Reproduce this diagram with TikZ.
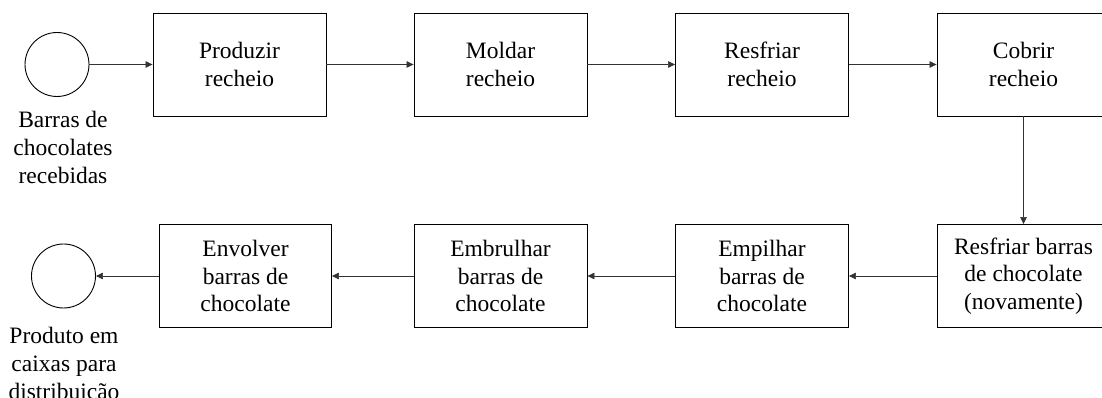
\documentclass[tikz,border=0pt]{standalone}
\usepackage{fontspec}
\setmainfont{Liberation Serif}
\usetikzlibrary{arrows.meta}
\tikzset{
  procbox/.style={draw=black, line width=0.9pt, minimum width=173pt, minimum height=103pt, inner sep=0pt, align=center, font=\fontsize{23.5}{27.5}\selectfont},
  endcirc/.style={draw=black, line width=0.9pt, circle, minimum size=64pt, inner sep=0pt},
  lbl/.style={align=center, inner sep=0pt, anchor=north, font=\fontsize{23.5}{28}\selectfont},
  flow/.style={draw=black!80, line width=0.6pt, -{Triangle[length=7pt,width=6.5pt]}}
}
\begin{document}
\begin{tikzpicture}[x=1pt,y=1pt]
\useasboundingbox (0,0) rectangle (1102,398);
\clip (0,0) rectangle (1102,398);
\node[endcirc] (c1) at (57,333.5) {};
\node[lbl] (l1) at (63,287) {Barras de\\chocolates\\recebidas};
\node[procbox] (b1) at (239.5,333.5) {Produzir\\recheio};
\node[procbox] (b2) at (500.5,333.5) {Moldar\\recheio};
\node[procbox] (b3) at (762,333.5) {Resfriar\\recheio};
\node[procbox] (b4) at (1023.5,333.5) {Cobrir\\recheio};
\node[procbox] (b5) at (1023.5,122) {Resfriar barras\\de chocolate\\(novamente)};
\node[procbox] (b6) at (762,122) {Empilhar\\barras de\\chocolate};
\node[procbox] (b7) at (500.5,122) {Embrulhar\\barras de\\chocolate};
\node[procbox, minimum width=172pt] (b8) at (245.5,122) {Envolver\\barras de\\chocolate};
\node[endcirc] (c2) at (63.5,122) {};
\node[lbl] (l2) at (64,71) {Produto em\\caixas para\\distribuição};
\draw[flow] (c1) -- (b1);
\draw[flow] (b1) -- (b2);
\draw[flow] (b2) -- (b3);
\draw[flow] (b3) -- (b4);
\draw[flow] (b4) -- (b5);
\draw[flow] (b5) -- (b6);
\draw[flow] (b6) -- (b7);
\draw[flow] (b7) -- (b8);
\draw[flow] (b8) -- (c2);
\end{tikzpicture}
\end{document}
